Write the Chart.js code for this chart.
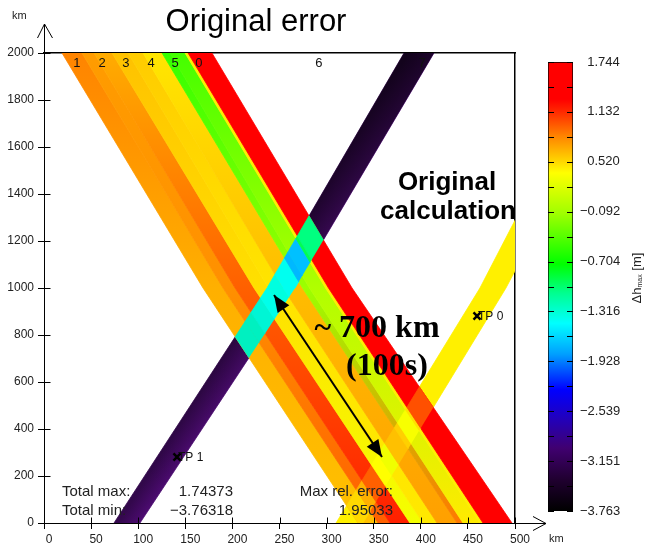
<!DOCTYPE html>
<html><head><meta charset="utf-8">
<script src="https://cdn.jsdelivr.net/npm/chart.js@4.4.1/dist/chart.umd.min.js"></script>
<style>
html,body{margin:0;padding:0;background:#fff;}
#wrap{position:relative;width:645px;height:548px;overflow:hidden;}
#mainbox{position:absolute;left:0;top:0;width:645px;height:548px;}
#cbbox{position:absolute;left:540px;top:0;width:105px;height:548px;}
</style></head><body>
<div id="wrap">
  <div id="mainbox"><canvas id="main" width="645" height="548" style="width:645px;height:548px"></canvas></div>
  <div id="cbbox"><canvas id="cb" width="105" height="548" style="width:105px;height:548px"></canvas></div>
</div>
<script>
// ---------------- data ----------------
const xTicks = [0, 50, 100, 150, 200, 250, 300, 350, 400, 450, 500];
const yTicks = [0, 200, 400, 600, 800, 1000, 1200, 1400, 1600, 1800, 2000];

// y levels (km) at which the front edges are read
const levelsKm = [0, 1000, 2000];

// descending wave-front stripes: x (km) of each boundary at y = 0, 1000, 2000 km
const frontEdgeXBottom = [333.3, 354.6, 367.3, 388.5, 402.3, 417.2, 438.4, 444.8, 462.8, 466.0, 496.8];
const frontEdgeXMid    = [168.8, 190.0, 202.8, 222.9, 238.3, 253.7, 274.4, 281.8, 298.8, 302.0, 327.0];
const frontEdgeXTop    = [19.1, 40.3, 53.1, 72.2, 89.2, 105.1, 125.3, 133.8, 149.7, 152.9, 178.3];

// stripe colours at y = 0, 1000, 2000 km
const frontColorBottom = ['#ffc000','#ff6000','#ff2000','#f4ff00','#ffe800','#ffa000','#ff7800','#ffea00','#ffee00','#ff0000'];
const frontColorMid    = ['#ffb000','#ff9000','#ff6000','#ffe000','#ffe400','#ffbc00','#9cff00','#b0ff00','#ffee00','#ff0000'];
const frontColorTop    = ['#ff8400','#ff9c00','#ffac00','#ffc200','#ffcc00','#ffe600','#34ff00','#44ff00','#ffee00','#ff0000'];

// colours where the stripes overlap the ascending bands
const crossPurpleColor = ['#00f0c0','#00f0c0','#00f5d5','#00ffea','#00ffe0','#00fff0','#00b8ff','#00c0ff','#00ff50','#00ff80'];
const crossYellowColor = ['#ffd800','#ffb000','#ff6000','#ffff00','#f0ff00','#ffc000','#ffd000','#f8ff00','#ffe000','#ff5000'];

// ascending dark band (x km at y = 0, 1000, 2000)
const purpleLeft  = [74.3, 236.7, 382.2];
const purpleRight = [101.9, 266.5, 414.0];
const purpleColors = ['#34084e', '#460a68', '#580e82'];
const purpleShade = ['rgba(0,0,0,0)', 'rgba(0,0,0,0.3)', 'rgba(0,0,0,0.65)'];

// ascending yellow band (x km at y = 0, 1000, 2000)
const yellowLeft  = [310.0, 462.8, 592.0];
const yellowRight = [338.6, 490.4, 622.0];
const yellowColor = '#fff000';

// gauges
const gaugeNames = ['TP 0', 'TP 1'];
const gaugeX = [459.7, 141.2];
const gaugeY = [880.9, 280.9];

// distance arrow
const arrowX = [244.2, 358.8];
const arrowY = [970.2, 280.9];

// source labels along the top
const sourceLabels = ['1', '2', '3', '4', '5', '0', '6', '7'];
const sourceLabelX = [35.0, 61.6, 87.0, 113.6, 139.1, 164.5, 291.9, 401.3];

// colour bar
const cbTicks = [1.744, 1.132, 0.520, -0.092, -0.704, -1.316, -1.928, -2.539, -3.151, -3.763];
const cbMin = -3.763, cbMax = 1.744;
const cbStopValues = [1.744, 1.287, 1.138, 0.835, 0.505, 0.384, -0.112, -0.734, -1.092, -1.461, -1.836, -2.276, -2.607, -2.992, -3.378, -3.763];
const cbStopColors = ['#ff0000','#ff0000','#ff2800','#ff8400','#ffdc00','#ffff00','#a0ff00','#00ff00','#00ff90','#00ffff','#00a0ff','#0000ff','#2000c0','#400070','#200030','#000000'];

// texts
const titleText = 'Original error';
const noteLines = ['Original', 'calculation'];
const distLines = ['~ 700 km', '(100s)'];
const statLabels = ['Total max:', 'Total min:'];
const statValues = ['1.74373', '\u22123.76318'];
const relLabel = 'Max rel. error:';
const relValue = '1.95033';

// ---------------- helpers ----------------
const FONT = '"Liberation Sans", Arial, sans-serif';
const frontEdge = j => [frontEdgeXBottom[j], frontEdgeXMid[j], frontEdgeXTop[j]];

function bandPolygon(L, R) {
  const pts = [];
  for (let k = 0; k < levelsKm.length; k++) pts.push({x: L[k], y: levelsKm[k]});
  for (let k = levelsKm.length - 1; k >= 0; k--) pts.push({x: R[k], y: levelsKm[k]});
  return pts;
}
function bandQuad(L, R, k) {
  return [{x: L[k], y: levelsKm[k]}, {x: R[k], y: levelsKm[k]}, {x: R[k + 1], y: levelsKm[k + 1]}, {x: L[k + 1], y: levelsKm[k + 1]}];
}
function clipPoly(subject, clipper) {
  let area = 0;
  for (let i = 0; i < clipper.length; i++) {
    const a = clipper[i], b = clipper[(i + 1) % clipper.length];
    area += a.x * b.y - b.x * a.y;
  }
  const sgn = area > 0 ? 1 : -1;
  let out = subject;
  for (let i = 0; i < clipper.length && out.length; i++) {
    const A = clipper[i], B = clipper[(i + 1) % clipper.length];
    const side = p => sgn * ((B.x - A.x) * (p.y - A.y) - (B.y - A.y) * (p.x - A.x));
    const inp = out; out = [];
    for (let j = 0; j < inp.length; j++) {
      const P = inp[j], Q = inp[(j + 1) % inp.length];
      const sp = side(P), sq = side(Q);
      if (sp >= 0) {
        out.push(P);
        if (sq < 0) { const t = sp / (sp - sq); out.push({x: P.x + t * (Q.x - P.x), y: P.y + t * (Q.y - P.y)}); }
      } else if (sq >= 0) {
        const t = sp / (sp - sq); out.push({x: P.x + t * (Q.x - P.x), y: P.y + t * (Q.y - P.y)});
      }
    }
  }
  return out;
}
function vGrad(colors) {
  return (ctx) => {
    const ch = ctx.chart, ys = ch.scales && ch.scales.y;
    if (!ch.chartArea || !ys) return colors[1];
    const y0 = ys.getPixelForValue(levelsKm[0]), y1 = ys.getPixelForValue(levelsKm[levelsKm.length - 1]);
    const g = ch.ctx.createLinearGradient(0, y0, 0, y1);
    levelsKm.forEach((lv, k) => g.addColorStop(Math.min(1, Math.max(0, (ys.getPixelForValue(lv) - y0) / (y1 - y0))), colors[k]));
    return g;
  };
}
function purpleGrad(ctx) {
  const ch = ctx.chart, xs = ch.scales && ch.scales.x, ys = ch.scales && ch.scales.y;
  if (!ch.chartArea || !xs || !ys) return purpleColors[1];
  const xa = xs.getPixelForValue(purpleLeft[0]), ya = ys.getPixelForValue(levelsKm[0]);
  const xb = xs.getPixelForValue(purpleLeft[2]), yb = ys.getPixelForValue(levelsKm[2]);
  let dx = xb - xa, dy = yb - ya; const len = Math.hypot(dx, dy); dx /= len; dy /= len;
  let nx = -dy, ny = dx; if (nx < 0) { nx = -nx; ny = -ny; }
  const px = xs.getPixelForValue(purpleLeft[1]), py = ys.getPixelForValue(levelsKm[1]);
  const w = (xs.getPixelForValue(purpleRight[1]) - px) * nx;
  const g = ch.ctx.createLinearGradient(px - nx * 3, py - ny * 3, px + nx * w, py + ny * w);
  g.addColorStop(0, purpleColors[0]); g.addColorStop(0.5, purpleColors[1]); g.addColorStop(1, purpleColors[2]);
  return g;
}
function polyDS(points, color, bw) {
  return {type: 'line', data: points, fill: 'shape', backgroundColor: color, borderColor: color,
          borderWidth: bw === undefined ? 0.8 : bw, pointRadius: 0, tension: 0};
}

// ---------------- datasets ----------------
const ds = [];
ds.push(polyDS(bandPolygon(yellowLeft, yellowRight), yellowColor));
ds.push(polyDS(bandPolygon(purpleLeft, purpleRight), purpleGrad));
ds.push(polyDS(bandPolygon(purpleLeft, purpleRight), vGrad(purpleShade), 0));
for (let i = 0; i < frontColorTop.length; i++) {
  ds.push(polyDS(bandPolygon(frontEdge(i), frontEdge(i + 1)),
    vGrad([frontColorBottom[i], frontColorMid[i], frontColorTop[i]])));
}
for (let i = 0; i < frontColorTop.length; i++) {
  for (let k = 0; k < levelsKm.length - 1; k++) {
    const c = clipPoly(bandQuad(frontEdge(i), frontEdge(i + 1), k), bandQuad(yellowLeft, yellowRight, k));
    if (c.length >= 3) ds.push(polyDS(c, crossYellowColor[i]));
  }
}
for (let i = 0; i < frontColorTop.length; i++) {
  for (let k = 0; k < levelsKm.length - 1; k++) {
    const c = clipPoly(bandQuad(frontEdge(i), frontEdge(i + 1), k), bandQuad(purpleLeft, purpleRight, k));
    if (c.length >= 3) ds.push(polyDS(c, crossPurpleColor[i]));
  }
}
const arrowIndex = ds.length;
ds.push({type: 'line', data: arrowX.map((x, i) => ({x, y: arrowY[i]})), borderColor: '#000',
         borderWidth: 2, pointRadius: 0, fill: false, tension: 0});
const gaugeIndex = ds.length;
ds.push({type: 'line', data: gaugeX.map((x, i) => ({x, y: gaugeY[i]})), showLine: false,
         pointStyle: 'crossRot', pointRadius: 5, pointBorderWidth: 2.5, pointBorderColor: '#000',
         borderColor: '#000', backgroundColor: '#000', fill: false});
ds.forEach((d, i) => { d.order = ds.length - i; });

// ---------------- decorations ----------------
const deco = {
  id: 'deco',
  afterDatasetsDraw(chart) {
    const ctx = chart.ctx;
    const pts = chart.getDatasetMeta(arrowIndex).data;
    if (pts.length < 2) return;
    const drawHead = (tip, from) => {
      const ang = Math.atan2(tip.y - from.y, tip.x - from.x);
      const L = 17, W = 7;
      ctx.beginPath();
      ctx.moveTo(tip.x, tip.y);
      ctx.lineTo(tip.x - L * Math.cos(ang) + W * Math.sin(ang), tip.y - L * Math.sin(ang) - W * Math.cos(ang));
      ctx.lineTo(tip.x - L * Math.cos(ang) - W * Math.sin(ang), tip.y - L * Math.sin(ang) + W * Math.cos(ang));
      ctx.closePath(); ctx.fill();
    };
    ctx.save(); ctx.fillStyle = '#000';
    drawHead(pts[0], pts[1]); drawHead(pts[1], pts[0]);
    ctx.restore();
  },
  afterDraw(chart) {
    const {ctx, chartArea: a, scales: {x, y}} = chart;
    ctx.save();
    ctx.strokeStyle = '#000'; ctx.lineWidth = 1;
    const X0 = Math.round(x.getPixelForValue(0)) + 0.5;
    const Y0 = Math.round(y.getPixelForValue(0)) + 0.5;
    ctx.beginPath();
    ctx.moveTo(X0, a.top); ctx.lineTo(X0, a.top - 29);
    ctx.moveTo(X0 - 7, a.top - 15); ctx.lineTo(X0, a.top - 29); ctx.lineTo(X0 + 8, a.top - 15);
    ctx.moveTo(a.right, Y0); ctx.lineTo(a.right + 31, Y0);
    ctx.moveTo(a.right + 18, Y0 - 7); ctx.lineTo(a.right + 31, Y0); ctx.lineTo(a.right + 18, Y0 + 7);
    xTicks.forEach(v => { const p = Math.round(x.getPixelForValue(v)) + 0.5; ctx.moveTo(p, Y0); ctx.lineTo(p, Y0 - 6); });
    yTicks.forEach(v => { const p = Math.round(y.getPixelForValue(v)) + 0.5; ctx.moveTo(X0, p); ctx.lineTo(X0 + 6, p); });
    ctx.stroke();

    ctx.fillStyle = '#222';
    ctx.font = '11px ' + FONT; ctx.textAlign = 'left'; ctx.textBaseline = 'alphabetic';
    ctx.fillText('km', 12, 19);
    ctx.fillText('km', 549, 542);

    // source labels
    ctx.font = '13px ' + FONT; ctx.textAlign = 'center'; ctx.textBaseline = 'middle'; ctx.fillStyle = '#111';
    sourceLabels.forEach((t, i) => ctx.fillText(t, x.getPixelForValue(sourceLabelX[i]), a.top + 10));

    // gauges
    ctx.font = '12px ' + FONT; ctx.textAlign = 'left'; ctx.textBaseline = 'alphabetic'; ctx.fillStyle = '#111';
    chart.getDatasetMeta(gaugeIndex).data.forEach((p, i) => ctx.fillText(gaugeNames[i], p.x + 1, p.y + 4));

    // statistics
    ctx.font = '15px ' + FONT; ctx.fillStyle = '#222';
    ctx.textAlign = 'left';
    ctx.fillText(statLabels[0], 62, 496); ctx.fillText(statLabels[1], 62, 515);
    ctx.textAlign = 'right';
    ctx.fillText(statValues[0], 233, 496); ctx.fillText(statValues[1], 233, 515);
    ctx.fillText(relLabel, 393, 496); ctx.fillText(relValue, 393, 515);

    // title and notes
    ctx.fillStyle = '#000'; ctx.textAlign = 'center';
    ctx.font = '31px ' + FONT;
    ctx.fillText(titleText, 256, 31);
    ctx.font = 'bold 26px ' + FONT;
    ctx.fillText(noteLines[0], 447, 190);
    ctx.fillText(noteLines[1], 448, 219);
    ctx.font = 'bold 32px "Liberation Serif", "Times New Roman", serif';
    ctx.fillText(distLines[0], 377, 337);
    ctx.fillText(distLines[1], 387, 375);
    ctx.restore();
  }
};

const tickFont = {family: FONT, size: 12};
new Chart(document.getElementById('main'), {
  type: 'line',
  data: {datasets: ds},
  plugins: [deco],
  options: {
    responsive: false, animation: false, events: [],
    layout: {padding: {left: 0, top: 53, right: 130, bottom: 0}},
    plugins: {legend: {display: false}, tooltip: {enabled: false}},
    scales: {
      x: {type: 'linear', position: 'bottom', min: 0, max: 500, z: 1,
          afterBuildTicks: s => { s.ticks = xTicks.map(v => ({value: v})); },
          afterFit: s => { s.height = 25; },
          grid: {drawOnChartArea: false, drawTicks: true, tickLength: 6, color: '#000'},
          border: {display: true, color: '#000', width: 1},
          ticks: {autoSkip: false, maxRotation: 0, padding: 3, labelOffset: 5, color: '#222', font: tickFont,
                  callback: v => String(v)}},
      y: {type: 'linear', position: 'left', min: 0, max: 2000, z: 1,
          afterBuildTicks: s => { s.ticks = yTicks.map(v => ({value: v})); },
          afterFit: s => { s.width = 44; },
          grid: {drawOnChartArea: false, drawTicks: true, tickLength: 6, color: '#000'},
          border: {display: true, color: '#000', width: 1},
          ticks: {autoSkip: false, padding: 4, color: '#222', font: tickFont, callback: v => String(v)}},
      xTop: {type: 'linear', position: 'top', min: 0, max: 500, z: 1,
          ticks: {display: false}, grid: {display: false, drawTicks: false},
          border: {display: true, dash: [4, 3], color: '#000', width: 1.5},
          afterFit: s => { s.height = 0; }},
      yRight: {type: 'linear', position: 'right', min: 0, max: 2000, z: 1,
          ticks: {display: false}, grid: {display: false, drawTicks: false},
          border: {display: true, dash: [4, 3], color: '#000', width: 1.5},
          afterFit: s => { s.width = 0; }}
    }
  }
});

// ---------------- colour bar ----------------
const cbAllTicks = [];
cbTicks.forEach((v, i) => { cbAllTicks.push(v); if (i < cbTicks.length - 1) cbAllTicks.push((v + cbTicks[i + 1]) / 2); });
const cbGrad = (ctx) => {
  const ch = ctx.chart, s = ch.scales && ch.scales.y;
  if (!ch.chartArea || !s) return '#888';
  const yTop = s.getPixelForValue(cbMax), yBot = s.getPixelForValue(cbMin);
  const g = ch.ctx.createLinearGradient(0, yTop, 0, yBot);
  cbStopValues.forEach((v, i) => g.addColorStop(Math.min(1, Math.max(0, (s.getPixelForValue(v) - yTop) / (yBot - yTop))), cbStopColors[i]));
  return g;
};
const cbDeco = {
  id: 'cbDeco',
  afterDraw(chart) {
    const ctx = chart.ctx, a = chart.chartArea, s = chart.scales.y;
    ctx.save();
    ctx.strokeStyle = '#000'; ctx.lineWidth = 1;
    ctx.beginPath();
    cbAllTicks.forEach(v => {
      const p = Math.round(s.getPixelForValue(v)) + 0.5;
      ctx.moveTo(a.left, p); ctx.lineTo(a.left + 6, p);
      ctx.moveTo(a.right - 6, p); ctx.lineTo(a.right, p);
    });
    ctx.stroke();
    ctx.translate(97, 278); ctx.rotate(-Math.PI / 2);
    ctx.fillStyle = '#222'; ctx.textBaseline = 'middle'; ctx.textAlign = 'left';
    const f1 = '13px ' + FONT, f2 = '7px ' + FONT;
    ctx.font = f1; const w1 = ctx.measureText('\u0394h').width; const w3 = ctx.measureText(' [m]').width;
    ctx.font = f2; const w2 = ctx.measureText('max').width;
    let xx = -(w1 + w2 + w3) / 2;
    ctx.font = f1; ctx.fillText('\u0394h', xx, 0); xx += w1;
    ctx.font = f2; ctx.fillText('max', xx, 3); xx += w2;
    ctx.font = f1; ctx.fillText(' [m]', xx, 0);
    ctx.restore();
  }
};
const cbLabel = v => {
  const i = cbTicks.indexOf(v);
  if (i < 0) return '';
  return v < 0 ? '\u2212' + Math.abs(v).toFixed(3) : '\u2007' + v.toFixed(3);
};
new Chart(document.getElementById('cb'), {
  type: 'bar',
  data: {labels: ['\u0394h'], datasets: [{data: [[cbMin, cbMax]], backgroundColor: cbGrad, borderColor: '#000',
         borderWidth: 1, borderSkipped: false, barPercentage: 1, categoryPercentage: 1}]},
  plugins: [cbDeco],
  options: {
    responsive: false, animation: false, events: [],
    layout: {padding: {left: 8, top: 62, bottom: 37, right: 0}},
    plugins: {legend: {display: false}, tooltip: {enabled: false}},
    scales: {
      x: {display: false},
      y: {type: 'linear', position: 'right', min: cbMin, max: cbMax,
          afterBuildTicks: s => { s.ticks = cbAllTicks.map(v => ({value: v})); },
          afterFit: s => { s.width = 72; },
          grid: {drawOnChartArea: false, drawTicks: false},
          border: {display: false},
          ticks: {autoSkip: false, padding: 7, color: '#222', font: {family: FONT, size: 13}, callback: cbLabel}}
    }
  }
});
</script>
</body></html>
